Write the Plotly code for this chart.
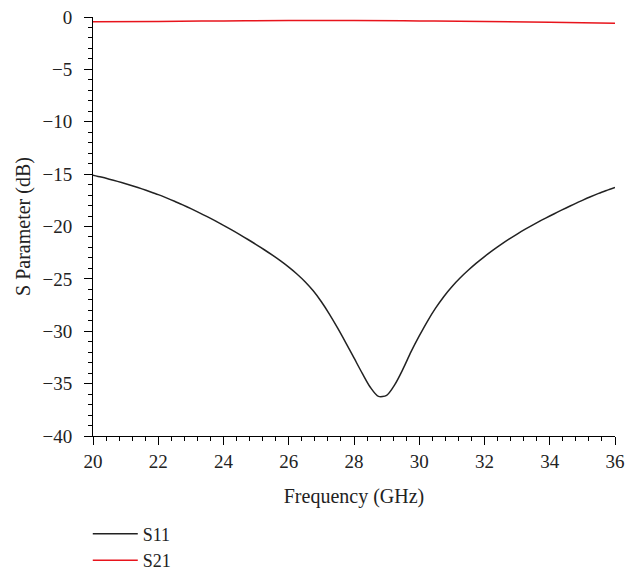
import plotly.graph_objects as go

freq_s11 = [20.0, 20.25, 20.5, 20.75, 21.0, 21.25, 21.5, 21.75, 22.0, 22.25, 22.5, 22.75,
            23.0, 23.25, 23.5, 23.75, 24.0, 24.25, 24.5, 24.75, 25.0, 25.25, 25.5, 25.75,
            26.0, 26.25, 26.5, 26.75, 27.0, 27.25, 27.5, 27.75, 28.0, 28.25, 28.5, 28.75,
            29.0, 29.25, 29.5, 29.75, 30.0, 30.25, 30.5, 30.75, 31.0, 31.25, 31.5, 31.75,
            32.0, 32.25, 32.5, 32.75, 33.0, 33.25, 33.5, 33.75, 34.0, 34.25, 34.5, 34.75,
            35.0, 35.25, 35.5, 35.75, 36.0]
s11 = [-15.10, -15.28, -15.48, -15.69, -15.91, -16.15, -16.41, -16.68, -16.96, -17.27,
       -17.59, -17.94, -18.30, -18.67, -19.06, -19.47, -19.89, -20.32, -20.77, -21.24,
       -21.72, -22.22, -22.74, -23.29, -23.88, -24.53, -25.27, -26.14, -27.18, -28.38,
       -29.70, -31.10, -32.55, -34.00, -35.35, -36.22, -36.12, -35.10, -33.62, -31.95,
       -30.45, -29.05, -27.80, -26.70, -25.75, -24.92, -24.18, -23.50, -22.87, -22.28,
       -21.73, -21.21, -20.72, -20.26, -19.82, -19.40, -19.00, -18.61, -18.23, -17.86,
       -17.50, -17.16, -16.84, -16.55, -16.27]

freq_s21 = [20, 22, 24, 26, 28, 30, 32, 34, 36]
s21 = [-0.45, -0.42, -0.38, -0.34, -0.33, -0.37, -0.42, -0.5, -0.6]

x_ticks = [20, 22, 24, 26, 28, 30, 32, 34, 36]
y_ticks = [0, -5, -10, -15, -20, -25, -30, -35, -40]

font_family = "Liberation Serif"

fig = go.Figure()
fig.add_trace(go.Scatter(x=freq_s11, y=s11, mode="lines", name="S11",
                         line=dict(color="#222222", width=1.5, shape="spline", smoothing=0.8)))
fig.add_trace(go.Scatter(x=freq_s21, y=s21, mode="lines", name="S21",
                         line=dict(color="#e8141c", width=1.5, shape="spline", smoothing=1.0)))

axis_common = dict(
    showline=True, linecolor="black", linewidth=1,
    ticks="outside", ticklen=8, tickwidth=1, tickcolor="black",
    showgrid=False, zeroline=False, mirror=False,
    tickfont=dict(family=font_family, size=19, color="#222"),
)

fig.update_xaxes(
    range=[20, 36], tickvals=x_ticks, ticktext=[str(v) for v in x_ticks],
    minor=dict(dtick=0.4, tick0=20, ticks="outside", ticklen=4, tickcolor="black", tickwidth=1),
    title=dict(text="Frequency (GHz)", font=dict(family=font_family, size=20, color="#222"), standoff=18),
    **axis_common,
)
fig.update_yaxes(
    range=[-40, 0], tickvals=y_ticks, ticktext=["0" if v == 0 else "\u2212" + str(-v) for v in y_ticks],
    minor=dict(dtick=1, tick0=0, ticks="outside", ticklen=4, tickcolor="black", tickwidth=1),
    title=dict(text="S Parameter (dB)", font=dict(family=font_family, size=20, color="#222"), standoff=6),
    ticklabelstandoff=8,
    **axis_common,
)

fig.update_layout(
    width=626, height=574,
    margin=dict(l=93, r=11, t=17, b=138, autoexpand=False),
    plot_bgcolor="white", paper_bgcolor="white",
    showlegend=True,
    legend=dict(x=-0.01, y=-0.19, xanchor="left", yanchor="top", orientation="v",
                font=dict(family=font_family, size=18, color="#222"),
                bgcolor="rgba(0,0,0,0)", itemwidth=45, tracegroupgap=0),
)

fig.write_html("out.html")
